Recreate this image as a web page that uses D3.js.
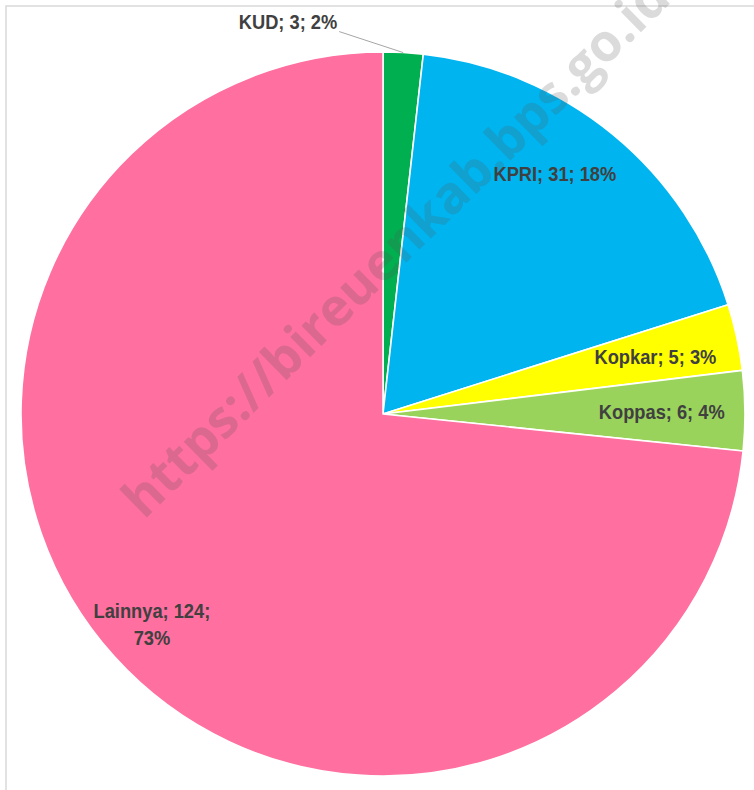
<!DOCTYPE html>
<html>
<head>
<meta charset="utf-8">
<script src="https://cdn.jsdelivr.net/npm/d3@7"></script>
<style>
  html, body { margin: 0; padding: 0; background: #ffffff; }
  svg { display: block; }
</style>
</head>
<body>
<svg id="chart" width="754" height="790"></svg>
<script>
// ---- data ----
const categories = ["KUD", "KPRI", "Kopkar", "Koppas", "Lainnya"];
const values = [3, 31, 5, 6, 124];
const percentLabels = ["2%", "18%", "3%", "4%", "73%"];
const colors = ["#00B050", "#00B4EF", "#FFFF00", "#9AD35C", "#FF6F9F"];
const watermark = "https://bireuenkab.bps.go.id";

// ---- layout ----
const W = 754, H = 790;
const cx = 383, cy = 414, R = 362;
const svg = d3.select("#chart");

// frame
svg.append("rect")
  .attr("x", 6).attr("y", 6).attr("width", 900).attr("height", 900)
  .attr("fill", "#ffffff").attr("stroke", "#d9d9d9").attr("stroke-width", 1.5);

const data = categories.map((c, i) => ({ name: c, value: values[i], pct: percentLabels[i], color: colors[i] }));
const pie = d3.pie().value(d => d.value).sort(null);
const arcs = pie(data);
const arc = d3.arc().innerRadius(0).outerRadius(R);

const g = svg.append("g").attr("transform", `translate(${cx},${cy})`);
g.selectAll("path.slice").data(arcs).enter().append("path")
  .attr("class", "slice")
  .attr("d", arc)
  .attr("fill", d => d.data.color)
  .attr("stroke", "#ffffff")
  .attr("stroke-width", 1.6)
  .attr("stroke-linejoin", "round");

// watermark
svg.append("text")
  .attr("transform", `translate(394,246) rotate(-44.5)`)
  .attr("text-anchor", "middle")
  .attr("dominant-baseline", "central")
  .attr("font-family", "'Open Sans', 'DejaVu Sans', sans-serif")
  .attr("font-weight", "bold")
  .attr("font-size", 52)
  .attr("fill", "rgb(85,85,85)")
  .attr("fill-opacity", 0.21)
  .text(watermark);

// labels
const labelLayout = {
  KPRI:    { f: 0.80, dx: -12, dy: -16 },
  Kopkar:  { f: 0.77, dx: 0, dy: 2 },
  Koppas:  { f: 0.77, dx: 0, dy: 1 },
  Lainnya: { f: 0.86, dx: 0, dy: 1 }
};
const fontSize = 21, sx = 0.87;
const labelColor = "#404040";

arcs.forEach(a => {
  const mid = (a.startAngle + a.endAngle) / 2;
  const txt = `${a.data.name}; ${a.data.value}; ${a.data.pct}`;
  if (a.data.name === "KUD") {
    const ox = Math.sin(mid) * R, oy = -Math.cos(mid) * R;
    const lx = ox - 64, ly = oy - 21;
    g.append("line")
      .attr("x1", lx).attr("y1", ly).attr("x2", ox).attr("y2", oy)
      .attr("stroke", "#a6a6a6").attr("stroke-width", 1);
    g.append("g").attr("transform", `translate(${lx - 2},${ly - 3}) scale(${sx},1)`)
      .append("text")
      .attr("text-anchor", "end")
      .attr("font-family", "'Liberation Sans', Arial, sans-serif")
      .attr("font-weight", "bold").attr("font-size", fontSize)
      .attr("fill", labelColor)
      .text(txt);
    return;
  }
  const L = labelLayout[a.data.name];
  const x = Math.sin(mid) * R * L.f + L.dx;
  const y = -Math.cos(mid) * R * L.f + L.dy;
  const tg = g.append("g").attr("transform", `translate(${x},${y}) scale(${sx},1)`);
  const t = tg.append("text")
    .attr("text-anchor", "middle")
    .attr("font-family", "'Liberation Sans', Arial, sans-serif")
    .attr("font-weight", "bold").attr("font-size", fontSize)
    .attr("fill", labelColor);
  if (a.data.name === "Lainnya") {
    t.append("tspan").attr("x", 0).attr("y", -6).text(`${a.data.name}; ${a.data.value};`);
    t.append("tspan").attr("x", 0).attr("y", 21).text(a.data.pct);
  } else {
    t.attr("y", 7).text(txt);
  }
});
</script>
</body>
</html>
